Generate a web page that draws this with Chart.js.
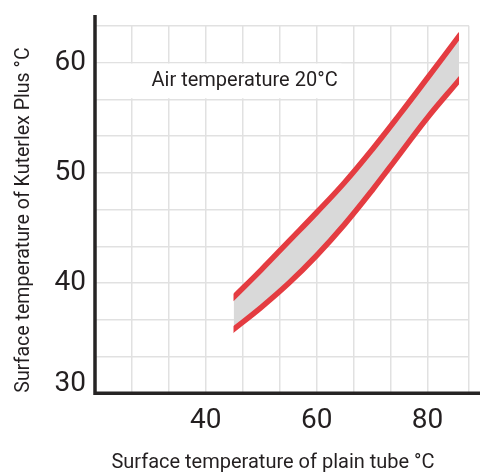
<!DOCTYPE html>
<html>
<head>
<meta charset="utf-8">
<script src="https://cdn.jsdelivr.net/npm/chart.js@4.4.1/dist/chart.umd.min.js"></script>
<style>
  html, body { margin: 0; padding: 0; background: #fff; }
  #wrap { width: 480px; height: 472px; }
</style>
</head>
<body>
<div id="wrap"><canvas id="chart"></canvas></div>
<script>
// Surface temperature of the plain tube (x) and the Kuterlex Plus band (y)
const plainTube = [45, 50, 55, 60, 65, 70, 75, 80, 85.7];
const kuterlexLow = [35.8, 37.8, 40.0, 42.5, 45.3, 48.4, 51.7, 55.0, 58.4];
const kuterlexHigh = [38.7, 41.2, 43.8, 46.4, 49.1, 52.1, 55.3, 58.6, 62.4];

// Tick labels
const xTickLabels = [40, 60, 80];
const yTickLabels = [30, 40, 50, 60];
const xTitle = 'Surface temperature of plain tube °C';
const yTitle = 'Surface temperature of Kuterlex Plus °C';
const noteText = 'Air temperature 20°C';

// Grid: three cells for each labelled step
const xGrid = Array.from({length: 10}, (_, i) => 20 + i * 20 / 3).concat([87.5]);
const yGrid = Array.from({length: 11}, (_, i) => 30 + i * 10 / 3);

const textColor = '#231f20';
const red = '#e43c41';
const fontFamily = 'Roboto, "Liberation Sans", sans-serif';

function isLabel(list, v) {
  return list.some(t => Math.abs(t - v) < 0.01);
}

// Note box, clipping of the band ends, axis lines and titles
const bandPlugin = {
  id: 'band',
  beforeDatasetsDraw(chart) {
    const {ctx, chartArea, scales: {x, y}} = chart;
    const top = y.getPixelForValue(60) + 1;
    const bottom = y.getPixelForValue(30 + 26.67 - 0.001) - 1;
    ctx.save();
    ctx.fillStyle = '#fff';
    ctx.fillRect(chartArea.left + 1, top, x.getPixelForValue(64.5) - chartArea.left - 1, bottom - top);
    ctx.fillStyle = textColor;
    ctx.font = '20px ' + fontFamily;
    ctx.textAlign = 'left';
    ctx.textBaseline = 'middle';
    ctx.fillText(noteText, x.getPixelForValue(30.2), y.getPixelForValue(58.33));
    ctx.restore();

    ctx.save();
    ctx.beginPath();
    const left = x.getPixelForValue(plainTube[0]);
    const right = x.getPixelForValue(plainTube[plainTube.length - 1]);
    ctx.rect(left, chartArea.top - 20, right - left, chartArea.height + 40);
    ctx.clip();
  },
  afterDatasetsDraw(chart) {
    chart.ctx.restore();
  },
  afterDraw(chart) {
    const {ctx, chartArea} = chart;
    ctx.save();
    ctx.strokeStyle = '#262424';
    ctx.lineWidth = 3.5;
    ctx.beginPath();
    ctx.moveTo(chartArea.left, chartArea.top - 10.7);
    ctx.lineTo(chartArea.left, chartArea.bottom);
    ctx.lineTo(chart.width, chartArea.bottom);
    ctx.stroke();

    ctx.fillStyle = textColor;
    ctx.textAlign = 'center';
    ctx.textBaseline = 'alphabetic';
    ctx.font = '20px ' + fontFamily;
    ctx.fillText(xTitle, 273, 468);
    ctx.translate(28.5, 220);
    ctx.rotate(-Math.PI / 2);
    ctx.font = '19.6px ' + fontFamily;
    ctx.fillText(yTitle, 0, 0);
    ctx.restore();
  }
};

const lineStyle = {
  borderColor: red,
  borderWidth: 5.5,
  borderCapStyle: 'square',
  pointRadius: 0,
  tension: 0.4
};

new Chart(document.getElementById('chart'), {
  type: 'line',
  data: {
    datasets: [
      {
        ...lineStyle,
        data: plainTube.map((v, i) => ({x: v, y: kuterlexLow[i]})),
        fill: false
      },
      {
        ...lineStyle,
        data: plainTube.map((v, i) => ({x: v, y: kuterlexHigh[i]})),
        fill: '-1',
        backgroundColor: '#d9d9d9'
      }
    ]
  },
  options: {
    responsive: true,
    maintainAspectRatio: false,
    animation: false,
    layout: { padding: { top: 20.7, right: 7, left: 0, bottom: 0 } },
    plugins: {
      legend: { display: false },
      tooltip: { enabled: false }
    },
    scales: {
      x: {
        type: 'linear',
        min: 20,
        max: 87.5,
        afterBuildTicks: s => { s.ticks = xGrid.map(v => ({value: v})); },
        afterFit: s => { s.height = 78.7; },
        grid: { color: '#e1e1e1', lineWidth: 1.5, drawTicks: false },
        border: { display: false },
        ticks: {
          autoSkip: false,
          maxRotation: 0,
          padding: 11,
          color: textColor,
          font: { family: fontFamily, size: 28 },
          callback: v => isLabel(xTickLabels, v) ? String(Math.round(v)) : ''
        },
        title: { display: false }
      },
      y: {
        type: 'linear',
        min: 30,
        max: 30 + 100 / 3,
        afterBuildTicks: s => { s.ticks = yGrid.map(v => ({value: v})); },
        afterFit: s => { s.width = 95; },
        grid: { color: '#e1e1e1', lineWidth: 1.5, drawTicks: false },
        border: { display: false },
        ticks: {
          autoSkip: false,
          padding: 9,
          color: textColor,
          // the bottom label sits just above the x axis
          font: c => ({
            family: fontFamily,
            size: 28,
            lineHeight: c.tick && Math.abs(c.tick.value - 30) < 0.01 ? '18px' : 1.2
          }),
          callback: v => {
            if (!isLabel(yTickLabels, v)) return '';
            const label = String(Math.round(v));
            return Math.abs(v - 30) < 0.01 ? [label, ''] : label;
          }
        },
        title: { display: false }
      }
    }
  },
  plugins: [bandPlugin]
});
</script>
</body>
</html>
